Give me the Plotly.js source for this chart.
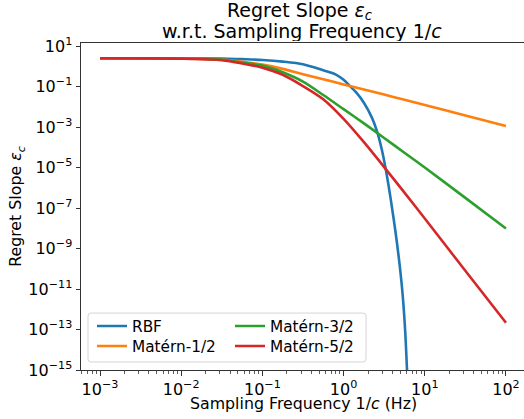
<!DOCTYPE html>
<html>
<head>
<meta charset="utf-8">
<script src="https://cdn.plot.ly/plotly-3.0.1.min.js"></script>
<style>html,body{margin:0;padding:0;background:#fff;}#chart{width:524px;height:419px;}</style>
</head>
<body>
<div id="chart"></div>
<script>
// Sampling frequency 1/c (Hz) for the Matérn curves
const freqMatern = [0.001, 0.00316, 0.01, 0.0316, 0.0562, 0.1, 0.178, 0.316, 0.562, 1, 1.78, 3.16, 5.62, 10, 31.6, 100];
// Regret slope values
const matern12 = [2.477, 2.472, 2.455, 2.138, 1.660, 1.202, 0.741, 0.407, 0.229, 0.126, 0.0708, 0.0398, 0.0221, 0.0123, 0.00372, 0.00111];
const matern32 = [2.477, 2.466, 2.427, 2.138, 1.514, 1.072, 0.501, 0.174, 0.0380, 0.00759, 0.00151, 2.88e-4, 5.37e-5, 1.0e-5, 3.16e-7, 9.77e-9];
const matern52 = [2.477, 2.455, 2.371, 1.995, 1.380, 0.851, 0.380, 0.105, 0.0234, 0.00251, 1.78e-4, 1.05e-5, 5.75e-7, 3.02e-8, 7.94e-11, 2.14e-13];
// RBF curve (denser where it falls steeply)
const freqRBF = [0.001, 0.01, 0.0316, 0.0562, 0.1, 0.178, 0.316, 0.562, 0.794, 1, 1.2, 1.413, 1.778, 2.239, 2.570, 2.951, 3.311, 3.802, 4.365, 4.898, 5.370, 5.754, 6.026, 6.310];
const rbf = [2.477, 2.477, 2.427, 2.239, 2.042, 1.698, 1.259, 0.631, 0.40, 0.214, 0.105, 0.0537, 0.0158, 0.00282, 6.46e-4, 7.94e-5, 7.94e-6, 2.82e-7, 6.31e-9, 1.58e-10, 3.98e-12, 6.76e-14, 1.29e-15, 2.51e-17];

const seriesNames = ['RBF', 'Matérn-1/2', 'Matérn-3/2', 'Matérn-5/2'];
const colors = ['#1f77b4', '#ff7f0e', '#2ca02c', '#d62728'];

// tick labels
const xTickVals = [1e-3, 1e-2, 1e-1, 1e0, 1e1, 1e2];
const xTickText = ['10<sup>−3</sup>', '10<sup>−2</sup>', '10<sup>−1</sup>', '10<sup>0</sup>', '10<sup>1</sup>', '10<sup>2</sup>'];
const yTickVals = [1e1, 1e-1, 1e-3, 1e-5, 1e-7, 1e-9, 1e-11, 1e-13, 1e-15];
const yTickText = ['10<sup>1</sup>', '10<sup>−1</sup>', '10<sup>−3</sup>', '10<sup>−5</sup>', '10<sup>−7</sup>', '10<sup>−9</sup>', '10<sup>−11</sup>', '10<sup>−13</sup>', '10<sup>−15</sup>'];

const titleLines = ['Regret Slope <i>ε</i><sub><i>c</i></sub>', 'w.r.t. Sampling Frequency 1/<i>c</i>'];
const xAxisLabel = 'Sampling Frequency 1/<i>c</i> (Hz)';
const yAxisLabel = 'Regret Slope <i>ε</i><sub><i>c</i></sub>';

const xs = [freqRBF, freqMatern, freqMatern, freqMatern];
const ys = [rbf, matern12, matern32, matern52];
const legendIds = ['legend', 'legend2', 'legend3', 'legend4'];

const font = 'DejaVu Sans, sans-serif';

const data = seriesNames.map((n, i) => ({
  x: xs[i], y: ys[i], name: n, type: 'scatter', mode: 'lines',
  line: {color: colors[i], width: 2.6, shape: 'spline', smoothing: 0.8},
  legend: legendIds[i], cliponaxis: true
}));

// pixel -> paper helpers
const L = 81, R = 524, T = 42.7, B = 370;
const px = v => (v - L) / (R - L);
const py = v => (B - v) / (B - T);
const bx0 = 88, bx1 = 366, by0 = 313, by1 = 362, r = 3;
const framePath = `M ${px(bx0 + r)} ${py(by0)} L ${px(bx1 - r)} ${py(by0)} Q ${px(bx1)} ${py(by0)} ${px(bx1)} ${py(by0 + r)} L ${px(bx1)} ${py(by1 - r)} Q ${px(bx1)} ${py(by1)} ${px(bx1 - r)} ${py(by1)} L ${px(bx0 + r)} ${py(by1)} Q ${px(bx0)} ${py(by1)} ${px(bx0)} ${py(by1 - r)} L ${px(bx0)} ${py(by0 + r)} Q ${px(bx0)} ${py(by0)} ${px(bx0 + r)} ${py(by0)} Z`;

function legendAt(xp, yp) {
  return {
    x: px(xp), y: py(yp), xanchor: 'left', yanchor: 'middle',
    bgcolor: 'rgba(0,0,0,0)', borderwidth: 0,
    font: {family: font, size: 15.3, color: '#000'}, tracegroupgap: 0
  };
}

const layout = {
  width: 524, height: 419,
  margin: {l: 81, r: 0, t: 42.7, b: 49},
  paper_bgcolor: '#fff', plot_bgcolor: '#fff',
  font: {family: font, color: '#000', size: 16},
  xaxis: {
    type: 'log', range: [-3.234, 2.222],
    tickmode: 'array', tickvals: xTickVals, ticktext: xTickText,
    showgrid: false, zeroline: false,
    showline: true, linecolor: '#333', linewidth: 1, mirror: true,
    ticks: 'outside', ticklen: 4.5, tickwidth: 1, tickcolor: '#333',
    tickfont: {family: font, size: 16, color: '#000'},
    minor: {ticks: 'outside', ticklen: 2.5, tickwidth: 0.8, tickcolor: '#333', dtick: 'D1', showgrid: false}
  },
  yaxis: {
    type: 'log', range: [-15, 1.148],
    tickmode: 'array', tickvals: yTickVals, ticktext: yTickText,
    showgrid: false, zeroline: false,
    showline: true, linecolor: '#333', linewidth: 1, mirror: false,
    ticks: 'outside', ticklen: 4.5, tickwidth: 1, tickcolor: '#333',
    tickfont: {family: font, size: 16, color: '#000'},
    title: {text: yAxisLabel, font: {family: font, size: 15.8, color: '#000'}, standoff: 2}
  },
  legend: legendAt(92, 326),
  legend2: legendAt(92, 346),
  legend3: legendAt(230, 326),
  legend4: legendAt(230, 346),
  annotations: [
    {text: titleLines[0], xref: 'paper', yref: 'paper', x: px(300), y: py(10.3), xanchor: 'center', yanchor: 'middle',
     height: 20, valign: 'middle', showarrow: false, font: {family: font, size: 19, color: '#000'}},
    {text: titleLines[1], xref: 'paper', yref: 'paper', x: px(301.5), y: py(30.8), xanchor: 'center', yanchor: 'middle',
     height: 20, valign: 'middle', showarrow: false, font: {family: font, size: 19, color: '#000'}},
    {text: xAxisLabel, xref: 'paper', yref: 'paper', x: px(303.5), y: py(404), xanchor: 'center', yanchor: 'middle',
     showarrow: false, font: {family: font, size: 15.8, color: '#000'}}
  ],
  shapes: [{
    type: 'path', xref: 'paper', yref: 'paper', path: framePath,
    line: {color: '#d5d5d5', width: 1}, fillcolor: 'rgba(255,255,255,0.8)', layer: 'above'
  }],
  showlegend: true
};

Plotly.newPlot('chart', data, layout, {displayModeBar: false, staticPlot: true});
</script>
</body>
</html>
